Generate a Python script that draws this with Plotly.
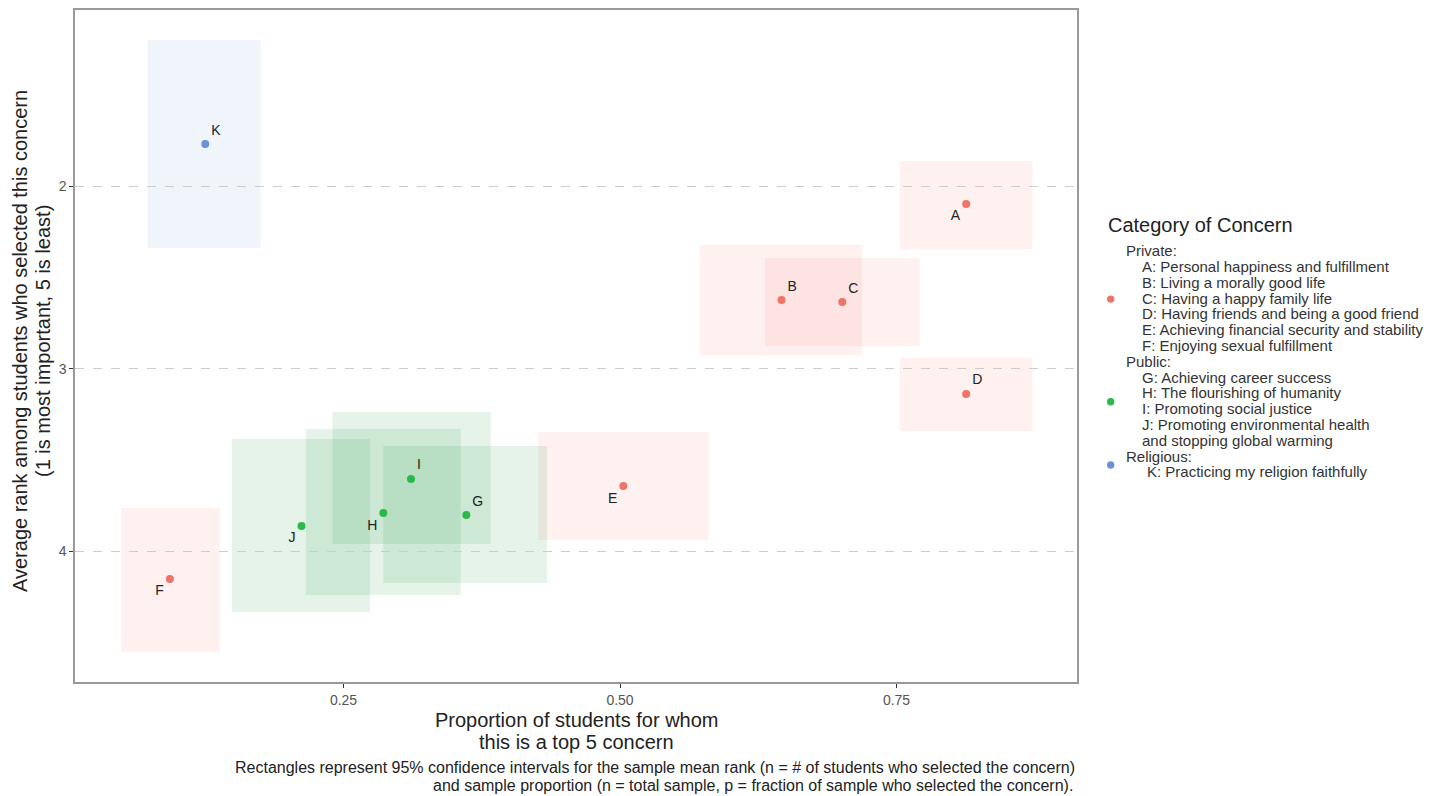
import plotly.graph_objects as go

# ---- data ----
labels = ["A", "B", "C", "D", "E", "F", "G", "H", "I", "J", "K"]
category = ["Private"] * 6 + ["Public"] * 4 + ["Religious"]
prop = [0.813, 0.646, 0.701, 0.813, 0.503, 0.093, 0.361, 0.286, 0.311, 0.212, 0.125]
rank = [2.096, 2.623, 2.634, 3.138, 3.643, 4.153, 3.802, 3.791, 3.604, 3.862, 1.767]
prop_lo = [0.753, 0.572, 0.631, 0.753, 0.426, 0.049, 0.286, 0.216, 0.240, 0.149, 0.073]
prop_hi = [0.873, 0.719, 0.771, 0.873, 0.580, 0.138, 0.434, 0.356, 0.383, 0.274, 0.175]
rank_lo = [1.860, 2.320, 2.392, 2.941, 3.346, 3.764, 3.424, 3.330, 3.237, 3.385, 1.196]
rank_hi = [2.343, 2.924, 2.875, 3.341, 3.939, 4.554, 4.175, 4.241, 3.961, 4.334, 2.337]
label_pos = ["bottom left", "top right", "top right", "top right", "bottom left",
             "bottom left", "top right", "bottom left", "top right", "bottom left", "top right"]

x_ticks = [0.25, 0.50, 0.75]
x_ticktext = ["0.25", "0.50", "0.75"]
y_ticks = [2, 3, 4]

x_title = ["Proportion of students for whom", "this is a top 5 concern"]
y_title = ["Average rank among students who selected this concern",
           "(1 is most important, 5 is least)"]
caption = ["Rectangles represent 95% confidence intervals for the sample mean rank (n = # of students who selected the concern)",
           "and sample proportion (n = total sample, p = fraction of sample who selected the concern)."]

categories = ["Private", "Public", "Religious"]
legend_headers = ["Private:", "Public:", "Religious:"]
legend_items = [
    ["A: Personal happiness and fulfillment",
     "B: Living a morally good life",
     "C: Having a happy family life",
     "D: Having friends and being a good friend",
     "E: Achieving financial security and stability",
     "F: Enjoying sexual fulfillment"],
    ["G: Achieving career success",
     "H: The flourishing of humanity",
     "I: Promoting social justice",
     "J: Promoting environmental health",
     "and stopping global warming"],
    ["K: Practicing my religion faithfully"],
]

point_colors = {"Private": "#F0736A", "Public": "#2DB84A", "Religious": "#6A92D8"}
fill_colors = {"Private": "rgba(248,118,109,0.10)",
               "Public": "rgba(20,150,55,0.11)",
               "Religious": "rgba(70,130,200,0.08)"}

FONT = "Liberation Sans, Arial, sans-serif"

# page body has an 8px margin; compensate so plot area sits at x 75..1077, y 10..682
W, H = 1424, 788
ML, MR, MT, MB = 67, 355, 2, 114
PX0, PX1, PY0, PY1 = 75, 1077, 10, 682


def px(x):
    return (x - PX0) / (PX1 - PX0)


def py(y):
    return (PY1 - y) / (PY1 - PY0)


fig = go.Figure()

# rectangles (confidence intervals)
for i in range(len(labels)):
    fig.add_shape(type="rect", xref="x", yref="y",
                  x0=prop_lo[i], x1=prop_hi[i], y0=rank_lo[i], y1=rank_hi[i],
                  fillcolor=fill_colors[category[i]], line=dict(width=0), layer="below")

for cat in categories:
    idx = [i for i, c in enumerate(category) if c == cat]
    fig.add_trace(go.Scatter(
        x=[prop[i] for i in idx], y=[rank[i] for i in idx],
        mode="markers+text",
        text=[labels[i] for i in idx],
        textposition=[label_pos[i] for i in idx],
        textfont=dict(family=FONT, size=14, color="#222222"),
        marker=dict(size=8, color=point_colors[cat]),
        name=cat,
        showlegend=False,
    ))

fig.update_layout(
    width=W, height=H,
    margin=dict(l=ML, r=MR, t=MT, b=MB, autoexpand=False),
    paper_bgcolor="white", plot_bgcolor="white",
    font=dict(family=FONT, size=14, color="#222222"),
    showlegend=False,
    xaxis=dict(
        range=[0.0072, 0.9132], tickvals=x_ticks, ticktext=x_ticktext,
        showgrid=False, zeroline=False, automargin=False,
        ticks="outside", ticklen=4, tickcolor="#333333",
        tickfont=dict(size=14, color="#555555"),
        showline=True, linecolor="#999999", linewidth=1.5, mirror=True,
    ),
    yaxis=dict(
        range=[4.718, 1.032], tickvals=y_ticks,
        showgrid=True, gridcolor="#CCCCCC", griddash="dash", gridwidth=1,
        zeroline=False, automargin=False,
        ticks="outside", ticklen=4, tickcolor="#333333",
        tickfont=dict(size=14, color="#555555"),
        showline=True, linecolor="#999999", linewidth=1.5, mirror=True,
    ),
)

# axis titles (one annotation per line for ggplot-like line spacing)
for k, (line, ypix) in enumerate(zip(x_title, [720, 742])):
    fig.add_annotation(xref="paper", yref="paper", x=0.5, y=py(ypix),
                       xanchor="center", yanchor="middle", showarrow=False,
                       text=line, font=dict(family=FONT, size=20, color="#222222"))
for k, (line, xpix) in enumerate(zip(y_title, [20, 43])):
    fig.add_annotation(xref="paper", yref="paper", x=px(xpix), y=py(341),
                       xanchor="center", yanchor="middle", showarrow=False, textangle=-90,
                       text=line, font=dict(family=FONT, size=20, color="#222222"))

# ---- manual legend ----
fig.add_annotation(xref="paper", yref="paper", x=px(1106), y=py(225),
                   xanchor="left", yanchor="middle", showarrow=False,
                   text="Category of Concern", font=dict(family=FONT, size=20, color="#222222"))

line_h = 15.8
y_cur = 250.7
key_y = []
for ci, cat in enumerate(categories):
    start = y_cur
    fig.add_annotation(xref="paper", yref="paper", x=px(1124), y=py(y_cur),
                       xanchor="left", yanchor="middle", showarrow=False,
                       text=legend_headers[ci], font=dict(family=FONT, size=15, color="#333333"))
    y_cur += line_h
    indent = 1145 if cat == "Religious" else 1140
    for item in legend_items[ci]:
        fig.add_annotation(xref="paper", yref="paper", x=px(indent), y=py(y_cur),
                           xanchor="left", yanchor="middle", showarrow=False,
                           text=item, font=dict(family=FONT, size=15, color="#333333"))
        y_cur += line_h
    end = y_cur - line_h
    key_y.append((start + end) / 2 + 1)

for ci, cat in enumerate(categories):
    fig.add_shape(type="circle", xref="paper", yref="paper",
                  xsizemode="pixel", ysizemode="pixel",
                  xanchor=px(1110.7), yanchor=py(key_y[ci]),
                  x0=-3.7, x1=3.7, y0=-3.7, y1=3.7,
                  fillcolor=point_colors[cat], line=dict(width=0))

# caption
fig.add_annotation(xref="paper", yref="paper", x=px(1077), y=py(767),
                   xanchor="right", yanchor="middle", showarrow=False,
                   text=caption[0], font=dict(family=FONT, size=16, color="#222222"))
fig.add_annotation(xref="paper", yref="paper", x=px(1075), y=py(785),
                   xanchor="right", yanchor="middle", showarrow=False,
                   text=caption[1], font=dict(family=FONT, size=16, color="#222222"))

fig.write_html("out.html")
